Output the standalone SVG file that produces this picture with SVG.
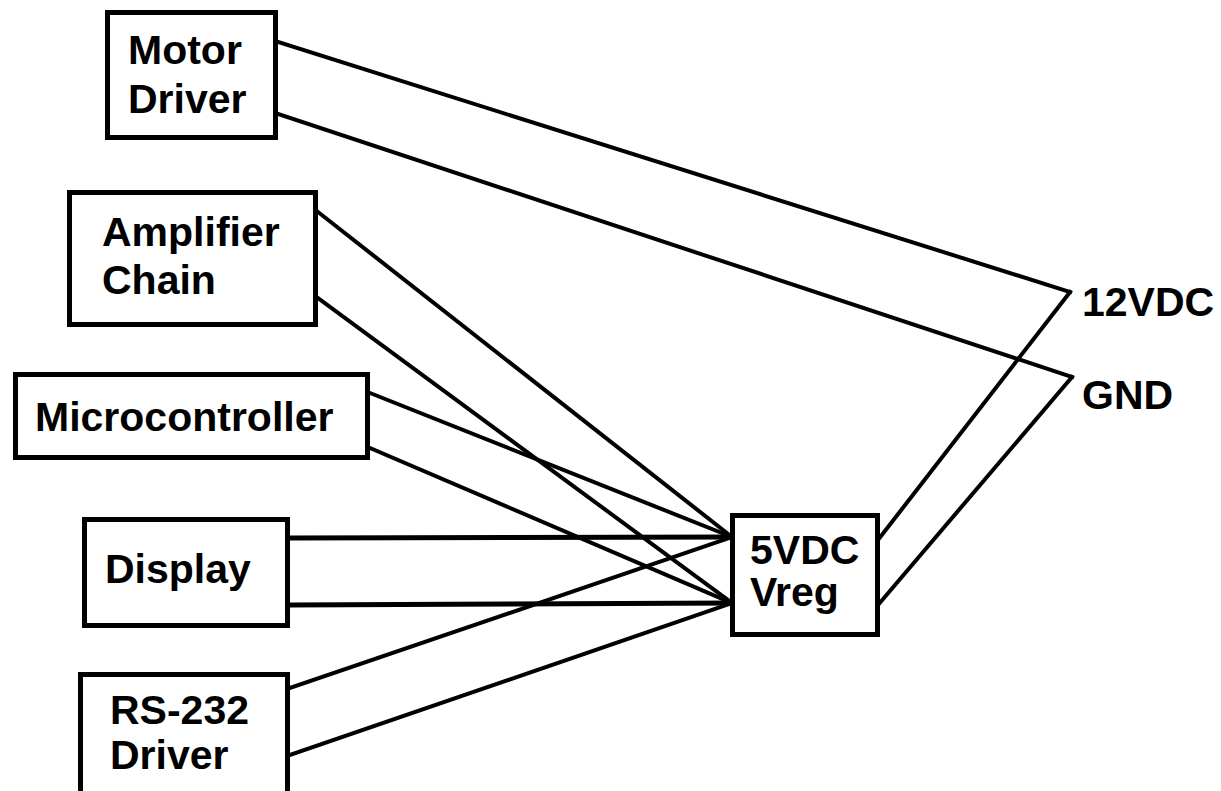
<svg xmlns="http://www.w3.org/2000/svg" width="1221" height="791" viewBox="0 0 1221 791">
  <style>
    .box { fill: #fff; stroke: #000; stroke-width: 5; }
    .wire { stroke: #000; stroke-width: 4; fill: none; stroke-linecap: square; }
    .lbl { font-family: "Liberation Sans", Arial, sans-serif; font-weight: bold; font-size: 41px; fill: #000; }
  </style>
  <rect width="1221" height="791" fill="#fff"/>

  <!-- power wiring -->
  <g id="connectors">
    <line class="wire" x1="278" y1="42" x2="1070" y2="292"/>
    <line class="wire" x1="278" y1="114" x2="1072" y2="377"/>
    <line class="wire" x1="318" y1="212" x2="732" y2="537"/>
    <line class="wire" x1="318" y1="298" x2="732" y2="603"/>
    <line class="wire" x1="370" y1="393" x2="732" y2="537"/>
    <line class="wire" x1="370" y1="448" x2="732" y2="603"/>
    <line class="wire" x1="290" y1="538" x2="732" y2="537" style="stroke-width:5"/>
    <line class="wire" x1="290" y1="605" x2="732" y2="603" style="stroke-width:5"/>
    <line class="wire" x1="290" y1="688" x2="732" y2="537"/>
    <line class="wire" x1="290" y1="755" x2="732" y2="603"/>
    <line class="wire" x1="878" y1="540" x2="1070" y2="292"/>
    <line class="wire" x1="878" y1="605" x2="1072" y2="377"/>
  </g>

  <g id="motor-driver">
    <rect class="box" x="107.5" y="12.5" width="168" height="125"/>
    <text class="lbl" x="128" y="64">Motor</text>
    <text class="lbl" x="128" y="113">Driver</text>
  </g>

  <g id="amplifier-chain">
    <rect class="box" x="69.5" y="192.5" width="246" height="132"/>
    <text class="lbl" x="102" y="246">Amplifier</text>
    <text class="lbl" x="102" y="294">Chain</text>
  </g>

  <g id="microcontroller">
    <rect class="box" x="15.5" y="374.5" width="352" height="83"/>
    <text class="lbl" x="35" y="431">Microcontroller</text>
  </g>

  <g id="display">
    <rect class="box" x="84.5" y="519.5" width="203" height="106"/>
    <text class="lbl" x="105" y="583">Display</text>
  </g>

  <g id="rs232-driver">
    <rect class="box" x="80.5" y="674.5" width="207" height="140"/>
    <text class="lbl" x="110" y="724">RS-232</text>
    <text class="lbl" x="110" y="769">Driver</text>
  </g>

  <g id="vreg">
    <rect class="box" x="732.5" y="515.5" width="145" height="119"/>
    <text class="lbl" x="750" y="564">5VDC</text>
    <text class="lbl" x="750" y="606">Vreg</text>
  </g>

  <g id="supply-12vdc">
    <text class="lbl" x="1082" y="316">12VDC</text>
  </g>

  <g id="supply-gnd">
    <text class="lbl" x="1082" y="409">GND</text>
  </g>
</svg>
